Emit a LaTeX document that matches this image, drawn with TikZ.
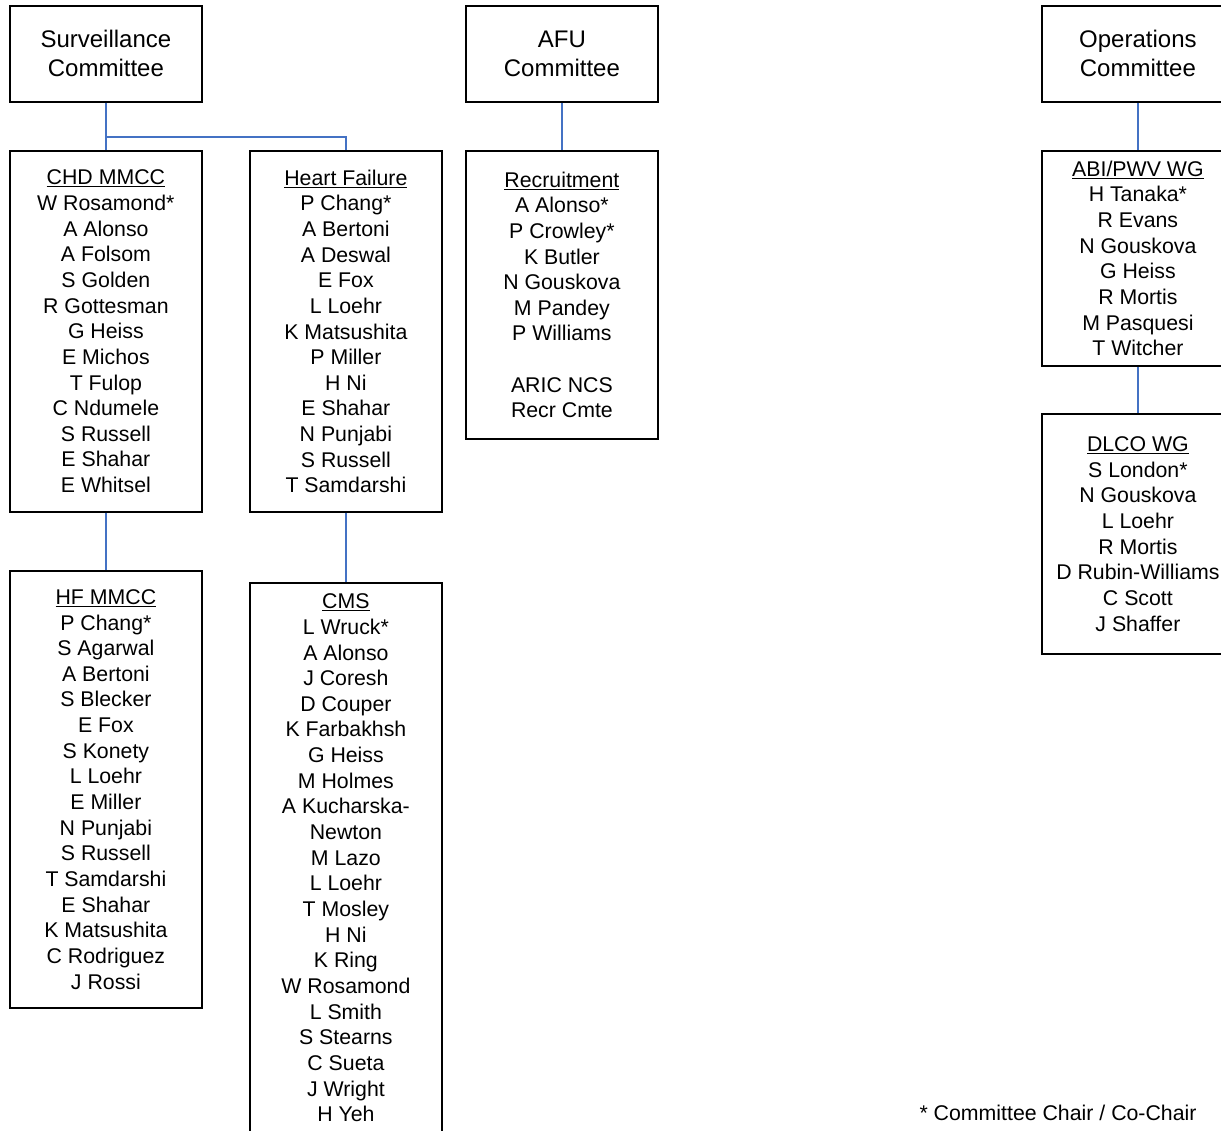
\documentclass[tikz,border=0pt]{standalone}
\usepackage{fontspec}
\setmainfont{Liberation Sans}
\definecolor{connblue}{RGB}{68,114,196}
\begin{document}
\begin{tikzpicture}[x=1pt,y=-1pt,
  box/.style={draw, line width=1.8pt, inner sep=0pt, minimum width=192pt, align=center,
    font=\fontsize{21.3}{25.65}\selectfont, anchor=north west},
  topbox/.style={box, minimum height=96pt, font=\fontsize{24}{29}\selectfont},
  conn/.style={draw=connblue, line width=1.8pt}]
\useasboundingbox (0,0) rectangle (1221,1130);
\clip (0,0) rectangle (1221,1130);

% top committees
\node[topbox] (surv) at (9,5) {Surveillance\\Committee};
\node[topbox] (afu) at (465,5) {AFU\\Committee};
\node[topbox] (ops) at (1041,5) {Operations\\Committee};

% Surveillance subtree
\node[box, minimum height=361pt] (chd) at (9,150) {\underline{CHD MMCC}\\W Rosamond*\\A Alonso\\A Folsom\\S Golden\\R Gottesman\\G Heiss\\E Michos\\T Fulop\\C Ndumele\\S Russell\\E Shahar\\E Whitsel};
\node[box, minimum height=361pt] (hf) at (249,150) {\underline{Heart Failure}\\P Chang*\\A Bertoni\\A Deswal\\E Fox\\L Loehr\\K Matsushita\\P Miller\\H Ni\\E Shahar\\N Punjabi\\S Russell\\T Samdarshi};
\node[box, minimum height=437pt] (hfm) at (9,570) {\underline{HF MMCC}\\P Chang*\\S Agarwal\\A Bertoni\\S Blecker\\E Fox\\S Konety\\L Loehr\\E Miller\\N Punjabi\\S Russell\\T Samdarshi\\E Shahar\\K Matsushita\\C Rodriguez\\J Rossi};
\node[box, minimum height=550pt] (cms) at (249,582) {\underline{CMS}\\L Wruck*\\A Alonso\\J Coresh\\D Couper\\K Farbakhsh\\G Heiss\\M Holmes\\A Kucharska-\\Newton\\M Lazo\\L Loehr\\T Mosley\\H Ni\\K Ring\\W Rosamond\\L Smith\\S Stearns\\C Sueta\\J Wright\\H Yeh};

% AFU subtree
\node[box, minimum height=288pt] (recr) at (465,150) {\underline{Recruitment}\\A Alonso*\\P Crowley*\\K Butler\\N Gouskova\\M Pandey\\P Williams\\[25.65pt]ARIC NCS\\Recr Cmte};

% Operations subtree
\node[box, minimum height=215pt] (abi) at (1041,150) {\underline{ABI/PWV WG}\\H Tanaka*\\R Evans\\N Gouskova\\G Heiss\\R Mortis\\M Pasquesi\\T Witcher};
\node[box, minimum height=240pt] (dlco) at (1041,413) {\underline{DLCO WG}\\S London*\\N Gouskova\\L Loehr\\R Mortis\\D Rubin-Williams\\C Scott\\J Shaffer};

% connectors
\coordinate (sj) at (105,137);
\draw[conn] (surv.south) -- (chd.north);
\draw[conn] (sj) -| (hf.north);
\draw[conn] (chd.south) -- (hfm.north);
\draw[conn] (hf.south) -- (cms.north);
\draw[conn] (afu.south) -- (recr.north);
\draw[conn] (ops.south) -- (abi.north);
\draw[conn] (abi.south) -- (dlco.north);

% footnote
\node[font=\fontsize{21.3}{25.65}\selectfont, anchor=west] (note) at (916,1113) {* Committee Chair / Co-Chair};
\end{tikzpicture}
\end{document}
